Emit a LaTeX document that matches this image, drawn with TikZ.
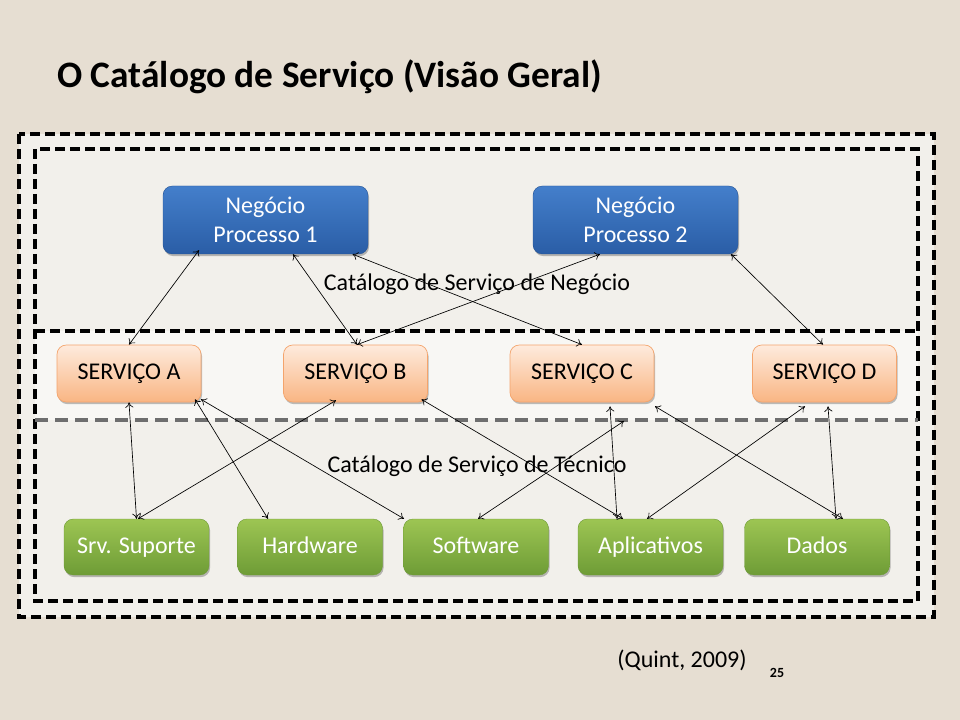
\documentclass[tikz,border=0pt]{standalone}
\usepackage{fontspec}
\setmainfont{Carlito}
\usetikzlibrary{arrows.meta,calc,shadows}
\definecolor{bgc}{HTML}{E6DED2}
\definecolor{outerfill}{HTML}{F2F0EB}
\definecolor{bandfill}{HTML}{F8F7F4}
\definecolor{bluetop}{HTML}{447FCB}
\definecolor{bluebot}{HTML}{2A5DA6}
\definecolor{orgtop}{HTML}{FEEBDD}
\definecolor{orgbot}{HTML}{F9B583}
\definecolor{orgline}{HTML}{F4A46C}
\definecolor{grntop}{HTML}{9DC553}
\definecolor{grnbot}{HTML}{6E9C36}
\definecolor{dashgray}{HTML}{6E6E6E}
\tikzset{
  boxbase/.style={rounded corners=7pt, align=center, inner sep=0pt,
     font=\fontsize{18}{22}\selectfont,
     drop shadow={shadow xshift=0.8pt, shadow yshift=-1.6pt, opacity=0.25, fill=black}},
  bluebox/.style={boxbase, minimum width=153.75pt, minimum height=51pt,
     top color=bluetop, bottom color=bluebot, text=white, draw=bluebot!90!black, line width=0.3pt},
  orgbox/.style={boxbase, minimum width=108pt, minimum height=42.75pt,
     text height=12.5pt, text depth=3.5pt,
     top color=orgtop, bottom color=orgbot, text=black, draw=orgline, line width=0.5pt},
  grnbox/.style={boxbase, minimum width=108.75pt, minimum height=42pt,
     text height=12.5pt, text depth=3.5pt,
     top color=grntop, bottom color=grnbot, text=white, draw=grnbot, line width=0.3pt},
  blkdash/.style={line width=2.5pt, dash pattern=on 7.5pt off 3.75pt},
  graydash/.style={draw=dashgray, line width=2.5pt, dash pattern=on 10pt off 5pt},
  link/.style={{To[length=4pt,width=6pt]}-{To[length=4pt,width=6pt]}, line width=0.5pt, black},
  lbl/.style={font=\fontsize{18}{22}\selectfont, inner sep=0pt}
}
\begin{document}
\begin{tikzpicture}[x=0.75pt,y=-0.75pt]
\useasboundingbox (0,0) rectangle (960,720);
\fill[bgc] (0,0) rectangle (960,720);
% frames
\draw[blkdash, fill=outerfill] (19,134) rectangle (934,617);
\fill[outerfill] (35,149) rectangle (918,601);
\fill[bandfill] (35,331) rectangle (918,420);
\draw[blkdash] (35,149) rectangle (918,601);
\draw[blkdash] (35,331) -- (918,331);
\draw[graydash] (35,420) -- (918,420);
% title
\node[anchor=west, font=\bfseries\fontsize{28}{32}\selectfont, inner sep=0pt] (title) at (57,77) {O Catálogo de Serviço (Visão Geral)};
% labels
\node[lbl] (lneg) at (477,284) {Catálogo de Serviço de Negócio};
\node[lbl] (ltec) at (477,466) {Catálogo de Serviço de Técnico};
% boxes
\node[bluebox] (np1) at (265.5,220) {Negócio\\Processo 1};
\node[bluebox] (np2) at (635.5,220) {Negócio\\Processo 2};
\node[orgbox] (sa) at (129,373.5) {SERVIÇO A};
\node[orgbox] (sb) at (355.5,373.5) {SERVIÇO B};
\node[orgbox] (sc) at (582,373.5) {SERVIÇO C};
\node[orgbox] (sd) at (824.5,373.5) {SERVIÇO D};
\node[grnbox] (ss) at (136.5,547) {Srv. Suporte};
\node[grnbox] (hw) at (310,547) {Hardware};
\node[grnbox] (sw) at (476,547) {Software};
\node[grnbox] (ap) at (650.5,547) {Aplicativos};
\node[grnbox] (da) at (817,547) {Dados};
% footer
\node[font=\fontsize{18}{22}\selectfont, inner sep=0pt] (cite) at (682,660) {(Quint, 2009)};
\node[font=\bfseries\fontsize{10.5}{12}\selectfont, inner sep=0pt] (pg) at (777,673) {25};
% free end
\coordinate (free) at (624,421);
% upper links
\draw[link] ($(np1.south)+(-66.5,-4)$) -- (sa.north);
\draw[link] ($(np1.south)+(27.5,0)$) -- ($(sb.north)+(1.5,0)$);
\draw[link] ($(np1.south)+(87,0)$) -- (sc.north);
\draw[link] ($(np2.south)+(-35.5,0)$) -- ($(sb.north)+(1.5,0)$);
\draw[link] ($(np2.south)+(95.5,0)$) -- ($(sd.north)+(-1.5,0)$);
% lower links
\draw[link] (sa.south) -- (ss.north);
\draw[link] ($(sa.south)+(66,-3)$) -- ($(hw.north)+(-42,0)$);
\draw[link] ($(sa.south)+(72,-3)$) -- ($(sw.north)+(-72,0)$);
\draw[link] ($(sb.south)+(-19.5,-2)$) -- ($(ss.north)+(1.5,0)$);
\draw[link] ($(sb.south)+(66,-3)$) -- ($(ap.north)+(-27.5,0)$);
\draw[link] ($(sc.south)+(28,4)$) -- ($(ap.north)+(-33.5,0)$);
\draw[link] ($(sw.north)+(2,0)$) -- (free);
\draw[link] ($(sc.south)+(73,4)$) -- ($(da.north)+(26,0)$);
\draw[link] ($(sd.south)+(-19.5,4)$) -- ($(ap.north)+(-3.5,0)$);
\draw[link] ($(sd.south)+(3.5,4)$) -- ($(da.north)+(19,0)$);
\end{tikzpicture}
\end{document}
